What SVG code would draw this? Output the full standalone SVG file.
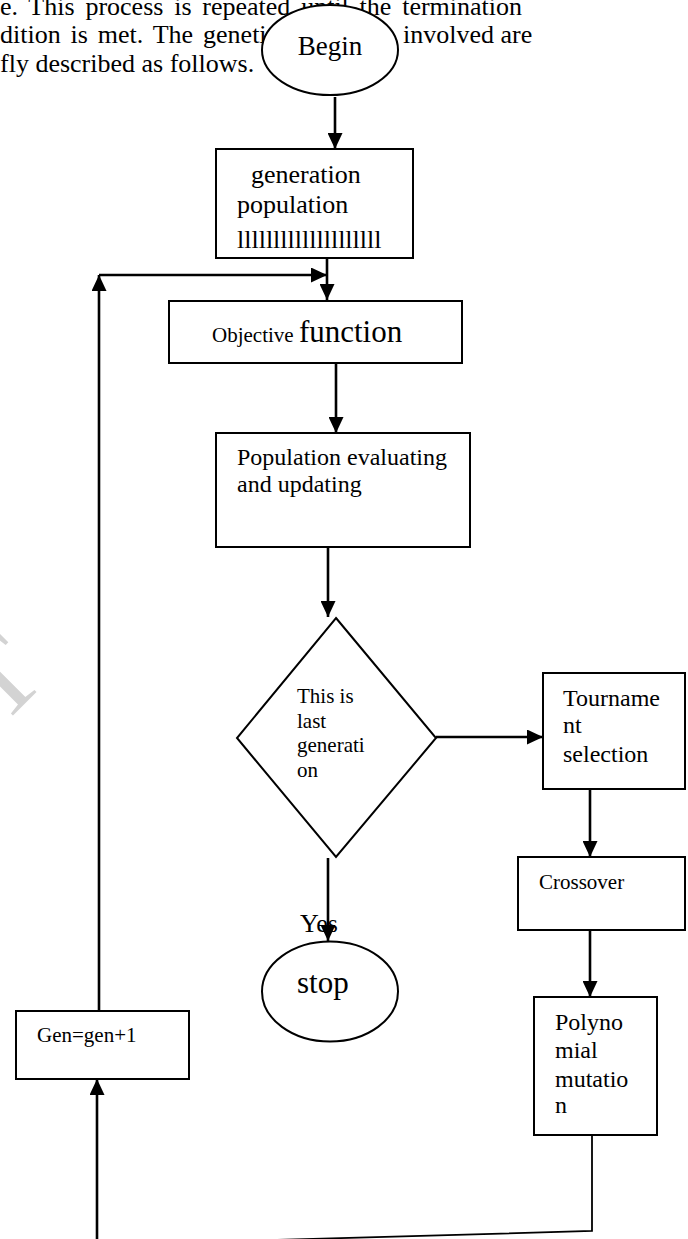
<svg xmlns="http://www.w3.org/2000/svg" width="688" height="1239" viewBox="0 0 688 1239">
<style>
.t{font-family:"Liberation Serif","Times New Roman",serif;fill:#000}
.box{fill:#fff;stroke:#000;stroke-width:2}
.con{stroke:#000;stroke-width:2.6;fill:none}
.thin{stroke:#000;stroke-width:1.8;fill:none}
.wm{font-family:"Liberation Serif","Times New Roman",serif;fill:#d3d3d3}
</style>
<defs>
<marker id="ah" markerUnits="userSpaceOnUse" markerWidth="16" markerHeight="15" refX="16" refY="7.5" orient="auto">
<path d="M0,0 L16,7.5 L0,15 Z" fill="#000"/>
</marker>
</defs>
<rect width="688" height="1239" fill="#fff"/>
<g id="watermark">
<text class="wm" font-size="110" transform="translate(25,703.5) rotate(-45)" x="-95" y="0">PT</text>
</g>
<g id="paragraph" class="t" font-size="26">
<text x="0" y="15" word-spacing="4.3">e. This process is repeated  until the termination</text>
<text x="0" y="43" word-spacing="3.4">dition is met. The genetic</text>
<text x="403" y="43">involved are</text>
<text x="0" y="72">fly described as follows.</text>
</g>
<g id="connectors">
<line class="con" x1="335" y1="97" x2="335" y2="149" marker-end="url(#ah)"/>
<line class="con" x1="327" y1="258" x2="327" y2="300" marker-end="url(#ah)"/>
<line class="con" x1="99" y1="1011" x2="99" y2="275" marker-end="url(#ah)"/>
<line class="con" x1="99" y1="275" x2="327" y2="275" marker-end="url(#ah)"/>
<line class="con" x1="336" y1="363" x2="336" y2="433" marker-end="url(#ah)"/>
<line class="con" x1="328" y1="547" x2="328" y2="617" marker-end="url(#ah)"/>
<line class="con" x1="436" y1="737" x2="543" y2="737" marker-end="url(#ah)"/>
<line class="con" x1="590" y1="789" x2="590" y2="857" marker-end="url(#ah)"/>
<line class="con" x1="590" y1="930" x2="590" y2="997" marker-end="url(#ah)"/>
<line class="con" x1="328" y1="858" x2="328" y2="941" marker-end="url(#ah)"/>
<polyline class="thin" points="592,1135 592,1231 97,1245"/>
<line class="con" x1="97" y1="1242" x2="97" y2="1079" marker-end="url(#ah)"/>
</g>
<g id="begin">
<ellipse class="box" cx="330" cy="50" rx="68" ry="45"/>
<text class="t" x="330" y="55" font-size="27" text-anchor="middle">Begin</text>
</g>
<g id="generation">
<rect class="box" x="216" y="149" width="197" height="109"/>
<text class="t" font-size="26"><tspan x="251" y="183">generation</tspan><tspan x="237" y="213">population</tspan><tspan x="237" y="248">llllllllllllllllllll</tspan></text>
</g>
<g id="objective">
<rect class="box" x="169" y="301" width="293" height="62"/>
<text class="t" x="212" y="342"><tspan font-size="21">Objective </tspan><tspan font-size="31">function</tspan></text>
</g>
<g id="population">
<rect class="box" x="216" y="433" width="254" height="114"/>
<text class="t" font-size="24"><tspan x="237" y="465">Population evaluating</tspan><tspan x="237" y="492">and updating</tspan></text>
</g>
<g id="decision">
<polygon class="box" points="336,618 436,738 336,857 237,738"/>
<text class="t" font-size="21"><tspan x="297" y="703">This is</tspan><tspan x="297" y="728">last</tspan><tspan x="297" y="752">generati</tspan><tspan x="297" y="777">on</tspan></text>
</g>
<g id="tournament">
<rect class="box" x="543" y="673" width="142" height="116"/>
<text class="t" font-size="24"><tspan x="563" y="706">Tourname</tspan><tspan x="563" y="733">nt</tspan><tspan x="563" y="762">selection</tspan></text>
</g>
<g id="crossover">
<rect class="box" x="518" y="857" width="167" height="73"/>
<text class="t" x="539" y="889" font-size="21">Crossover</text>
</g>
<g id="mutation">
<rect class="box" x="534" y="997" width="123" height="138"/>
<text class="t" font-size="24"><tspan x="555" y="1030">Polyno</tspan><tspan x="555" y="1058">mial</tspan><tspan x="555" y="1087">mutatio</tspan><tspan x="555" y="1113">n</tspan></text>
</g>
<g id="stop">
<ellipse class="box" cx="330" cy="991.5" rx="68" ry="50"/>
<text class="t" x="297" y="993" font-size="31">stop</text>
</g>
<g id="yes-label">
<text class="t" x="300" y="932" font-size="26">Yes</text>
</g>
<g id="increment">
<rect class="box" x="16" y="1011" width="173" height="68"/>
<text class="t" x="37" y="1042" font-size="21">Gen=gen+1</text>
</g>
</svg>
